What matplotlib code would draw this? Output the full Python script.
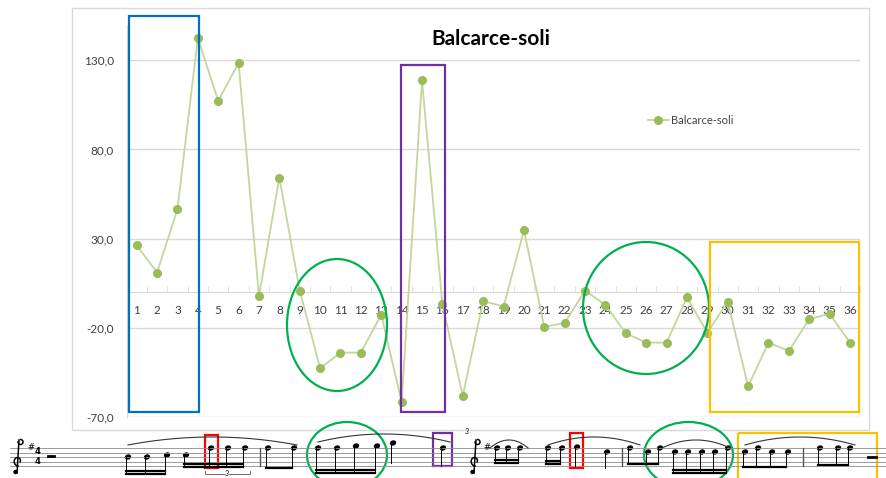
import matplotlib
matplotlib.use("Agg")
import matplotlib.pyplot as plt
from matplotlib.patches import Rectangle, Ellipse
from matplotlib.ticker import FixedLocator, FuncFormatter
import numpy as np

plt.rcParams['font.family'] = ['Lato', 'DejaVu Sans']

# data
categories = list(range(1, 37))
values = [26.2, 11.0, 46.5, 142.6, 107.2, 128.6, -2.3, 64.2, 0.9, -42.7,
          -33.9, -33.9, -12.6, -61.5, 118.7, -6.8, -58.1, -4.9, -8.1, 34.6,
          -19.5, -17.3, 0.9, -7.2, -23.1, -28.3, -28.3, -3.0, -22.7, -5.3,
          -52.8, -28.3, -33.0, -15.0, -12.2, -28.3]
y_ticks = [-70, -20, 30, 80, 130]
series_name = "Balcarce-soli"

W, H = 886, 478
fig = plt.figure(figsize=(W / 100, H / 100), dpi=100)
fig.patch.set_facecolor('white')

# chart frame (pixel coords)
bg = fig.add_axes([0, 0, 1, 1], zorder=0)
bg.set_xlim(0, W)
bg.set_ylim(H, 0)
bg.axis('off')
bg.add_patch(Rectangle((72, 8), 797, 422, fill=False, ec='#d9d9d9', lw=1))

# plot area: x 126.5..860.2 px, y -70 -> 417 px, 150 -> 24.6 px
left, right, bot, top = 126.5, 860.2, 417.0, 24.6
ax = fig.add_axes([left / W, 1 - bot / H, (right - left) / W, (bot - top) / H], zorder=1)
ax.patch.set_alpha(0)
ax.set_xlim(0.5, 36.5)
ax.set_ylim(-70, 150)

ax.plot(categories, values, color='#c3d69b', lw=1.3, marker='o', ms=5.5,
        mfc='#9bbb59', mec='#9bbb59', label=series_name, zorder=3)

ax.yaxis.set_major_locator(FixedLocator(y_ticks))
ax.yaxis.set_major_formatter(FuncFormatter(lambda v, p: f"{v:.1f}".replace('.', ',')))
ax.grid(axis='y', color='#d9d9d9', lw=1)
ax.tick_params(axis='y', length=0, pad=9, labelsize=8.5, labelcolor='#404040')

for s in ['top', 'right']:
    ax.spines[s].set_visible(False)
ax.spines['left'].set_color('#d9d9d9')
ax.spines['bottom'].set_position(('data', 0))
ax.spines['bottom'].set_color('#d9d9d9')
ax.set_xticks(categories)
ax.set_xticklabels([str(c) for c in categories])
ax.set_xticks(np.arange(0.5, 37, 1), minor=True)
ax.tick_params(axis='x', which='major', length=0, pad=9, labelsize=8.5, labelcolor='#404040')
ax.tick_params(axis='x', which='minor', length=4, direction='in', color='#d9d9d9')

ax.legend(loc='center left', bbox_to_anchor=(642 / W, 1 - 120 / H),
          bbox_transform=fig.transFigure, frameon=False, fontsize=8,
          handlelength=1.9, handletextpad=0.2, borderpad=0, labelcolor='#404040')

fig.text(491 / W, 1 - 39 / H, series_name, ha='center', va='center',
         fontsize=15, fontweight='bold', color='black')

# overlay: annotation marks and the score excerpt
ov = fig.add_axes([0, 0, 1, 1], zorder=5)
ov.set_xlim(0, W)
ov.set_ylim(H, 0)
ov.axis('off')
ov.patch.set_alpha(0)

def box(x0, y0, x1, y1, c):
    ov.add_patch(Rectangle((x0, y0), x1 - x0, y1 - y0, fill=False, ec=c, lw=1.6))

def oval(x0, y0, x1, y1, c):
    ov.add_patch(Ellipse(((x0 + x1) / 2, (y0 + y1) / 2), x1 - x0, y1 - y0,
                         fill=False, ec=c, lw=1.6))

blue, purple, green, orange, red = '#0070c0', '#7030a0', '#00b050', '#ffc000', '#ff0000'
box(129, 16, 199, 412, blue)
box(401, 65, 445, 412, purple)
oval(287, 259, 387, 391, green)
oval(583, 242, 709, 374, green)
box(710, 242, 859, 412, orange)

# staff
staff_top, gap = 448, 4.6
for i in range(5):
    y = staff_top + i * gap
    ov.plot([10, W], [y, y], color='#8c8c8c', lw=0.6)
for bx in [260, 622, 803]:
    ov.plot([bx, bx], [staff_top, staff_top + 4 * gap], color='#555555', lw=1)

# treble clef drawn as a shape (no installed font has the glyph)
def clef(cx):
    ov.plot([cx + 1, cx - 1], [440, 473], color='black', lw=1.1)
    a = np.linspace(0, 1.6 * np.pi, 40)
    ov.plot(cx + 4.5 * np.cos(a + np.pi / 2) * np.linspace(1, 0.5, 40),
            461 + 5 * np.sin(a + np.pi / 2) * np.linspace(1, 0.5, 40), color='black', lw=1.1)
    b = np.linspace(-np.pi / 2, np.pi, 20)
    ov.plot(cx + 2.5 + 2.5 * np.cos(b), 442 + 2.5 * np.sin(b), color='black', lw=1.1)
    ov.add_patch(Ellipse((cx - 2.5, 472), 3, 3, color='black'))

clef(18)
clef(475)
ov.text(31, 447, '#', fontsize=6, ha='center', va='center', family='DejaVu Sans')
ov.text(487, 447, '#', fontsize=6, ha='center', va='center', family='DejaVu Sans')
ov.text(38, 452, '4', fontsize=6, ha='center', va='center', fontweight='bold', family='DejaVu Sans')
ov.text(38, 461, '4', fontsize=6, ha='center', va='center', fontweight='bold', family='DejaVu Sans')
ov.plot([48, 54], [456, 456], color='black', lw=2)
ov.plot([868, 876], [457, 457], color='black', lw=2)
ov.text(467, 432, '3', fontsize=5, style='italic', ha='center', va='center')

# note groups: head x, head y, beam y, beam count
groups = [
    ([128, 147, 167], [457, 457, 455], 474, 2),
    ([186, 211, 228, 245], [455, 448, 448, 448], 467, 2),
    ([268, 294], [448, 448], 468, 1),
    ([318, 337, 356, 377], [448, 448, 446, 446], 473, 2),
    ([393], [443], 463, 0),
    ([443], [448], 466, 0),
    ([497, 508, 520], [448, 448, 448], 463, 2),
    ([548, 562], [448, 448], 464, 2),
    ([577], [447], 466, 0),
    ([607], [452], 468, 0),
    ([630, 648, 660], [448, 452, 448], 464, 1),
    ([675, 688, 702, 715, 728], [452, 452, 452, 452, 448], 473, 2),
    ([745, 758, 772, 788], [452, 448, 452, 452], 467, 1),
    ([820, 838, 850], [448, 448, 448], 465, 1),
]
for xs, ys, by, nb in groups:
    for x, y in zip(xs, ys):
        ov.add_patch(Ellipse((x, y), 5, 3.8, angle=-20, color='black'))
        ov.plot([x - 2.3, x - 2.3], [y, by], color='black', lw=0.7)
    if nb and len(xs) > 1:
        for k in range(nb):
            ov.plot([xs[0] - 2.3, xs[-1] - 2.3], [by - 3 * k, by - 3 * k], color='black', lw=1.6)

slurs = [(128, 297, 437), (318, 450, 434), (490, 528, 440),
         (548, 640, 437), (662, 730, 440), (745, 855, 437)]
for x0, x1, yt in slurs:
    xx = np.linspace(x0, x1, 40)
    t = (xx - x0) / (x1 - x0)
    ov.plot(xx, yt + 8 * (2 * t - 1) ** 2, color='#333333', lw=0.8)

ov.plot([205, 205, 224, 230, 250, 250], [471, 474, 474, 474, 474, 471], color='#555555', lw=0.6)
ov.text(227, 474, '3', fontsize=5, style='italic', ha='center', va='center',
        bbox=dict(fc='white', ec='none', pad=0.3))

box(205, 435, 218, 468, red)
box(570, 433, 583, 468, red)
box(433, 433, 452, 466, purple)
oval(307, 422, 387, 488, green)
oval(644, 422, 733, 488, green)
box(738, 433, 877, 482, orange)

fig.savefig('out.png', dpi=100)
